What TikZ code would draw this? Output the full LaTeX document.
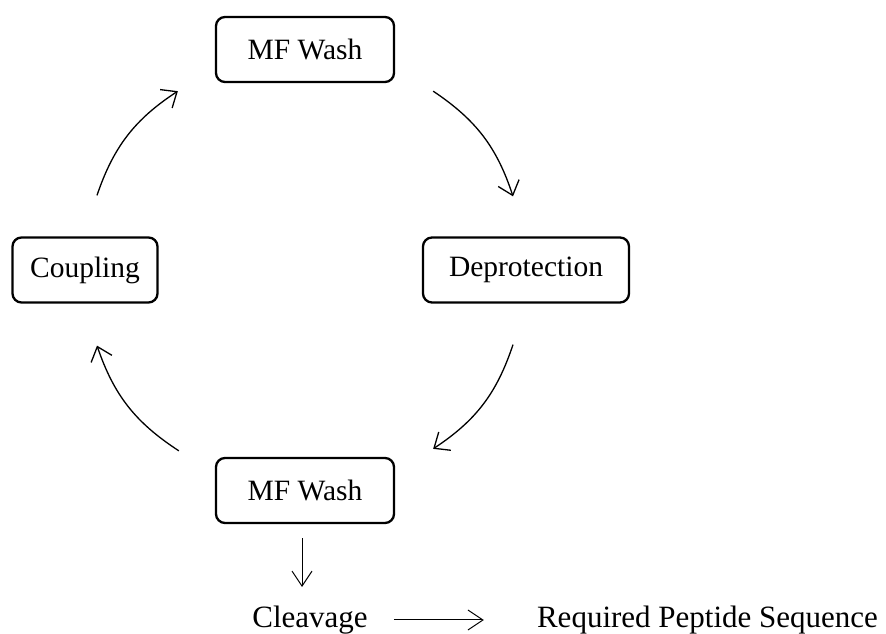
\documentclass[tikz,border=0pt]{standalone}
\usepackage{fontspec}
\setmainfont{Liberation Serif}
\usetikzlibrary{arrows.meta}
\tikzset{
  stepbox/.style={draw, line width=2.3pt, rounded corners=9pt, minimum height=65pt, inner sep=0pt,
    font=\fontsize{29.5}{35}\selectfont},
  plain/.style={inner sep=0pt, anchor=base, font=\fontsize{31}{36}\selectfont},
  cyc/.style={line width=1.3pt, -{Straight Barb[length=13pt, width=22pt, line width=1.3pt]}, bend left=19},
  thinarr/.style={line width=1pt, -{Straight Barb[length=15pt, width=20pt, line width=1pt]}}
}
\begin{document}
\begin{tikzpicture}[x=1pt,y=1pt]
\useasboundingbox (0,0) rectangle (886,634);
\node[stepbox, minimum width=178pt] (mf1) at (305,584.5) {MF Wash};
\node[stepbox, minimum width=145pt] (coup) at (85,364) {Coupling};
\node[stepbox, minimum width=206pt] (dep) at (526,364) {Deprotection};
\node[stepbox, minimum width=178pt] (mf2) at (305,143.5) {MF Wash};
\node[plain] (cleav) at (310,6) {Cleavage};
\node[plain] (req) at (707.5,6) {Required Peptide Sequence};
\draw[cyc] ([xshift=38pt,yshift=-8pt]mf1.south east) to ([xshift=-13pt,yshift=40pt]dep.north);
\draw[cyc] ([xshift=-13pt,yshift=-41pt]dep.south) to ([xshift=38pt,yshift=8pt]mf2.north east);
\draw[cyc] ([xshift=-36pt,yshift=6pt]mf2.north west) to ([xshift=12pt,yshift=-42pt]coup.south);
\draw[cyc] ([xshift=12pt,yshift=41pt]coup.north) to ([xshift=-37pt,yshift=-8pt]mf1.south west);
\draw[thinarr] ([xshift=-3pt,yshift=-14pt]mf2.south) -- ([xshift=-8pt,yshift=41pt]cleav.base);
\draw[thinarr] ([xshift=26pt,yshift=8pt]cleav.base east) -- ([xshift=-53pt,yshift=8pt]req.base west);
\end{tikzpicture}
\end{document}
